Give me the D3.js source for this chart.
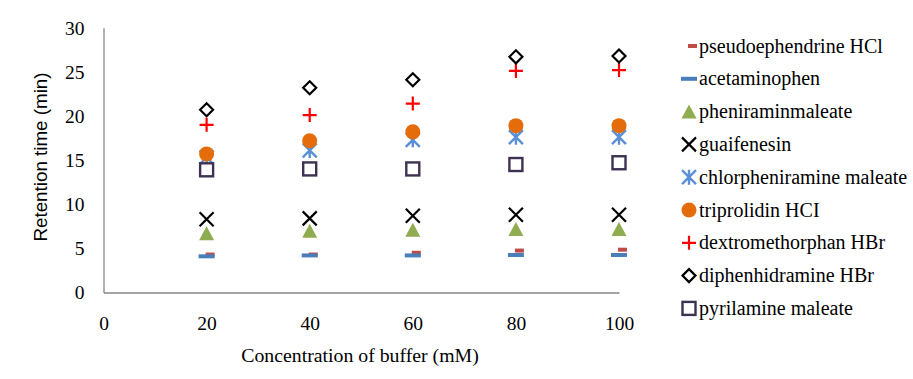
<!DOCTYPE html>
<html>
<head>
<meta charset="utf-8">
<script src="https://cdn.jsdelivr.net/npm/d3@7/dist/d3.min.js"></script>
<style>
  body { margin: 0; background: #fff; }
  text { font-family: "Liberation Serif", "Times New Roman", serif; fill: #000; }
</style>
</head>
<body>
<div id="chart"></div>
<script>
// data
const concentrations = [20, 40, 60, 80, 100];
const xTicks = [0, 20, 40, 60, 80, 100];
const yTicks = [0, 5, 10, 15, 20, 25, 30];

const seriesNames = [
  "pseudoephendrine HCl",
  "acetaminophen",
  "pheniraminmaleate",
  "guaifenesin",
  "chlorpheniramine maleate",
  "triprolidin HCI",
  "dextromethorphan HBr",
  "diphenhidramine HBr",
  "pyrilamine maleate"
];

const pseudoephendrine = [4.3, 4.3, 4.5, 4.75, 4.85];
const acetaminophen    = [4.1, 4.2, 4.2, 4.25, 4.25];
const pheniramin       = [6.7, 7.0, 7.1, 7.2, 7.2];
const guaifenesin      = [8.3, 8.4, 8.7, 8.8, 8.8];
const chlorpheniramine = [15.3, 16.1, 17.3, 17.6, 17.6];
const triprolidin      = [15.7, 17.2, 18.2, 18.9, 18.9];
const dextromethorphan = [19.0, 20.1, 21.4, 25.1, 25.2];
const diphenhidramine  = [20.7, 23.2, 24.1, 26.7, 26.8];
const pyrilamine       = [13.9, 14.0, 14.0, 14.5, 14.7];

const seriesValues = [pseudoephendrine, acetaminophen, pheniramin, guaifenesin,
  chlorpheniramine, triprolidin, dextromethorphan, diphenhidramine, pyrilamine];

const markerTypes = ["shortDash", "dash", "triangle", "x", "star", "circle", "plus", "diamond", "square"];
const markerColors = ["#be4b48", "#4a7ebb", "#8fac50", "#000000", "#5b8fd6", "#e46c0a", "#ff0000", "#000000", "#3f3151"];

// layout
const W = 913, H = 379;
const margin = {left: 103.5, top: 27.7, plotRight: 619, plotBottom: 292.5};

const svg = d3.select("#chart").append("svg")
  .attr("width", W)
  .attr("height", H)
  .style("background", "#fff");

const x = d3.scaleLinear().domain([0, 100]).range([margin.left, margin.plotRight]);
const y = d3.scaleLinear().domain([0, 30]).range([margin.plotBottom, margin.top]);

// axes
const xAxis = d3.axisBottom(x).tickValues(xTicks).tickSize(0).tickPadding(0).tickFormat(d3.format("d"));
const yAxis = d3.axisLeft(y).tickValues(yTicks).tickSize(0).tickPadding(0).tickFormat(d3.format("d"));

const gx = svg.append("g")
  .attr("transform", "translate(0," + margin.plotBottom + ")")
  .call(xAxis);
gx.select(".domain").attr("stroke", "#868686").attr("stroke-width", 1.3);
gx.selectAll(".tick text")
  .attr("y", 37).attr("dy", 0)
  .style("font-family", "'Liberation Serif', serif")
  .style("font-size", "19.5px").attr("fill", "#000");

const gy = svg.append("g")
  .attr("transform", "translate(" + margin.left + ",0)")
  .call(yAxis);
gy.select(".domain").attr("stroke", "#868686").attr("stroke-width", 1.3);
gy.selectAll(".tick text")
  .attr("x", -19).attr("dy", "0.33em")
  .style("font-family", "'Liberation Serif', serif")
  .style("font-size", "19.5px").attr("fill", "#000");

// axis titles
svg.append("text")
  .attr("x", 360).attr("y", 362)
  .attr("text-anchor", "middle")
  .style("font-size", "19.8px")
  .text("Concentration of buffer (mM)");

svg.append("text")
  .attr("transform", "translate(47,157) rotate(-90)")
  .attr("text-anchor", "middle")
  .style("font-family", "'Liberation Sans', Arial, sans-serif")
  .style("font-size", "18.8px")
  .text("Retention time (min)");

// markers
function drawMarker(g, type, color) {
  if (type === "shortDash") {
    g.append("rect").attr("x", -1).attr("y", -2).attr("width", 9).attr("height", 4).attr("fill", color);
  } else if (type === "dash") {
    g.append("rect").attr("x", -8).attr("y", -2).attr("width", 16).attr("height", 4).attr("fill", color);
  } else if (type === "triangle") {
    g.append("path").attr("d", "M0,-7L7.5,7L-7.5,7Z").attr("fill", color);
  } else if (type === "x") {
    g.append("path").attr("d", "M-7,-7L7,7M7,-7L-7,7").attr("stroke", color).attr("stroke-width", 2.2).attr("fill", "none");
  } else if (type === "star") {
    g.append("path").attr("d", "M-7,-7L7,7M7,-7L-7,7M0,-7.5L0,7.5").attr("stroke", color).attr("stroke-width", 2.4).attr("fill", "none");
  } else if (type === "circle") {
    g.append("circle").attr("r", 7.5).attr("fill", color);
  } else if (type === "plus") {
    g.append("path").attr("d", "M-7,0L7,0M0,-7L0,7").attr("stroke", color).attr("stroke-width", 2.2).attr("fill", "none");
  } else if (type === "diamond") {
    g.append("path").attr("d", "M0,-6.5L6.5,0L0,6.5L-6.5,0Z").attr("stroke", color).attr("stroke-width", 2.2).attr("fill", "#fff");
  } else if (type === "square") {
    g.append("rect").attr("x", -6.5).attr("y", -6.5).attr("width", 13).attr("height", 13)
      .attr("stroke", color).attr("stroke-width", 2.4).attr("fill", "#fff");
  }
}

seriesValues.forEach((vals, i) => {
  const s = svg.append("g").attr("class", "series");
  vals.forEach((v, j) => {
    const g = s.append("g").attr("transform", "translate(" + x(concentrations[j]) + "," + y(v) + ")");
    drawMarker(g, markerTypes[i], markerColors[i]);
  });
});

// legend
const legend = svg.append("g").attr("transform", "translate(689,46)");
seriesNames.forEach((name, i) => {
  const row = legend.append("g").attr("transform", "translate(0," + (i * 32.8) + ")");
  drawMarker(row, markerTypes[i], markerColors[i]);
  row.append("text")
    .attr("x", 10).attr("y", 6.5)
    .style("font-size", "20px")
    .text(name);
});
</script>
</body>
</html>
